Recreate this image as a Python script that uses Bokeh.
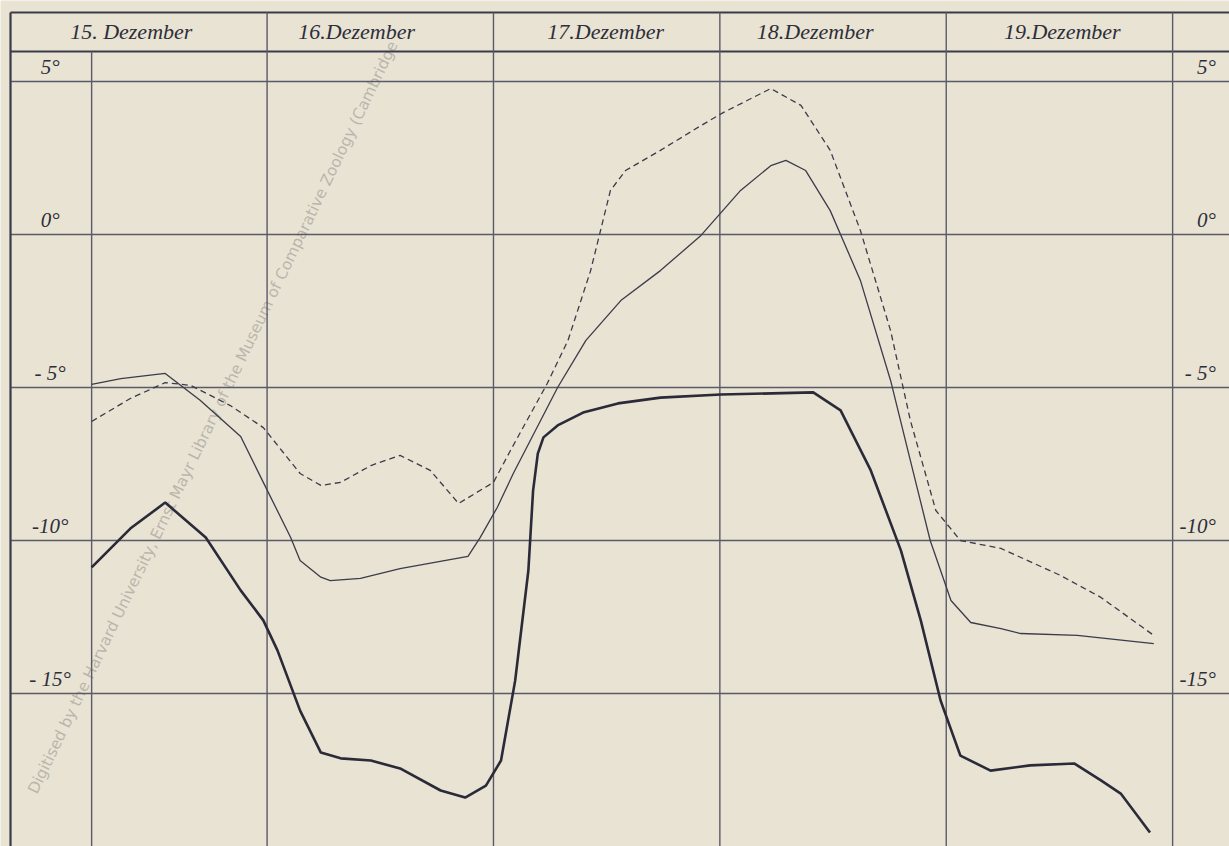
from bokeh.plotting import figure
from bokeh.models import Range1d
from bokeh.core.properties import value
from bokeh.embed import file_html
from bokeh.resources import INLINE

# ---- data: hours since 15 Dec 00:00, temperature in degrees C ----
thin_h = [5.4, 8.5, 13.2, 16.9, 21.2, 23.6, 26.5, 27.5, 29.7, 30.7, 33.9, 38.1, 45.3, 46.6, 48.4, 50.1,
          54.8, 57.8, 61.5, 65.7, 70.0, 74.2, 77.4, 79.0, 81.1, 83.7, 86.9, 90.1, 92.2, 94.3, 96.5,
          98.6, 101.8, 103.9, 109.9, 118.0]
thin_t = [-4.90, -4.71, -4.54, -5.42, -6.60, -8.10, -9.90, -10.65, -11.2, -11.31, -11.24, -10.92,
          -10.52, -9.90, -8.92, -7.81, -5.00, -3.46, -2.16, -1.18, -0.03, 1.44, 2.25, 2.42, 2.09,
          0.78, -1.50, -4.77, -7.39, -10.00, -11.96, -12.68, -12.88, -13.04, -13.10, -13.37]

dash_h = [5.4, 9.5, 13.2, 15.9, 20.1, 23.6, 27.5, 29.7, 31.8, 35.0, 38.1, 41.3, 44.3, 48.0, 49.8,
          53.7, 55.9, 58.3, 60.4, 62.0, 65.7, 70.0, 72.4, 77.4, 80.6, 83.7, 86.9, 90.1, 92.2, 94.9,
          97.5, 101.8, 108.1, 112.4, 118.0]
dash_t = [-6.11, -5.36, -4.84, -4.93, -5.59, -6.31, -7.81, -8.20, -8.10, -7.55, -7.22, -7.71, -8.79,
          -8.10, -7.06, -4.87, -3.46, -1.18, 1.44, 2.09, 2.75, 3.56, 3.99, 4.77, 4.22, 2.75, 0.13,
          -3.14, -6.08, -9.02, -10.00, -10.26, -11.14, -11.86, -13.10]

thick_h = [5.4, 9.5, 13.2, 17.5, 21.2, 23.6, 25.1, 27.5, 29.7, 31.8, 35.0, 38.1, 42.4, 45.0, 47.2,
           48.8, 50.3, 51.7, 52.2, 52.7, 53.3, 54.8, 57.5, 61.2, 65.7, 72.1, 81.9, 84.8, 88.0, 91.2,
           93.3, 95.4, 97.5, 100.7, 104.9, 109.6, 112.4, 114.5, 117.6]
thick_t = [-10.88, -9.61, -8.76, -9.90, -11.63, -12.61, -13.59, -15.56, -16.93, -17.12, -17.19,
           -17.45, -18.17, -18.40, -18.01, -17.19, -14.58, -10.98, -8.37, -7.16, -6.63, -6.24,
           -5.82, -5.52, -5.33, -5.23, -5.16, -5.75, -7.71, -10.33, -12.61, -15.23, -17.03, -17.52,
           -17.35, -17.29, -17.84, -18.27, -19.54]

day_labels = ["15. Dezember", "16.Dezember", "17.Dezember", "18.Dezember", "19.Dezember"]
day_bounds = [24, 48, 72, 96, 120]
temp_levels = [5, 0, -5, -10, -15]
left_labels = ["5°", "0°", "- 5°", "-10°", "- 15°"]
right_labels = ["5°", "0°", "- 5°", "-10°", "-15°"]
watermark = "Digitised by the Harvard University, Ernst Mayr Library of the Museum of Comparative Zoology (Cambridge"

# ---- layout constants ----
W, H = 1229, 846
x0, x1 = -4.262, 126.03
y0, y1 = -20.0, 7.647
box_left = -3.2
box_top = 7.255
header_bottom = 5.98
label_col = 5.4
right_edge = 127.5
day_label_x = [9.6, 33.5, 59.9, 82.1, 108.3]
left_label_x = 1.0
right_label_x = 124.6

paper = "#e8e3d3"
ink = "#3b3b4b"
grid_col = "#5a5a68"

p = figure(width=W, height=H, x_range=Range1d(x0, x1), y_range=Range1d(y0, y1),
           output_backend="svg", toolbar_location=None, min_border=0,
           background_fill_color=paper, border_fill_color=paper, outline_line_color=None)
p.axis.visible = False
p.grid.visible = False

# watermark
p.text(x=[-0.87], y=[-18.24], text=[watermark],
       angle=64.3, angle_units="deg", text_font=value("DejaVu Sans"), text_font_size="15.5px",
       text_color="#aaa69e", text_alpha=0.75, text_align="left", text_baseline="middle")

# horizontal rules
for t in temp_levels:
    p.line([box_left, right_edge], [t, t], line_color=grid_col, line_width=1.4)
p.line([box_left, right_edge], [header_bottom, header_bottom], line_color=ink, line_width=2)
p.line([box_left, right_edge], [box_top, box_top], line_color=ink, line_width=2.2)

# vertical rules
p.line([box_left, box_left], [box_top, y0 - 1], line_color=ink, line_width=2.2)
p.line([label_col, label_col], [header_bottom, y0 - 1], line_color=grid_col, line_width=1.4)
for d in day_bounds:
    p.line([d, d], [box_top, y0 - 1], line_color=grid_col, line_width=1.4)

# header texts
p.text(x=day_label_x, y=[6.62] * 5, text=day_labels, text_font=value("Liberation Serif"),
       text_font_style="italic", text_font_size="22px", text_color="#2e2e3a",
       text_align="center", text_baseline="middle")

# temperature labels
lab_y = [t + 0.47 for t in temp_levels]
p.text(x=[left_label_x] * 5, y=lab_y, text=left_labels, text_font=value("Liberation Serif"),
       text_font_style="italic", text_font_size="21px", text_color="#2e2e3a",
       text_align="center", text_baseline="middle")
p.text(x=[right_label_x] * 5, y=lab_y, text=right_labels, text_font=value("Liberation Serif"),
       text_font_style="italic", text_font_size="21px", text_color="#2e2e3a",
       text_align="right", text_baseline="middle")

# curves
p.line(dash_h, dash_t, line_color=ink, line_width=1.3, line_dash="6 4")
p.line(thin_h, thin_t, line_color=ink, line_width=1.3)
p.line(thick_h, thick_t, line_color="#2a2a38", line_width=2.6)

open("out.html", "w").write(file_html(p, INLINE))
